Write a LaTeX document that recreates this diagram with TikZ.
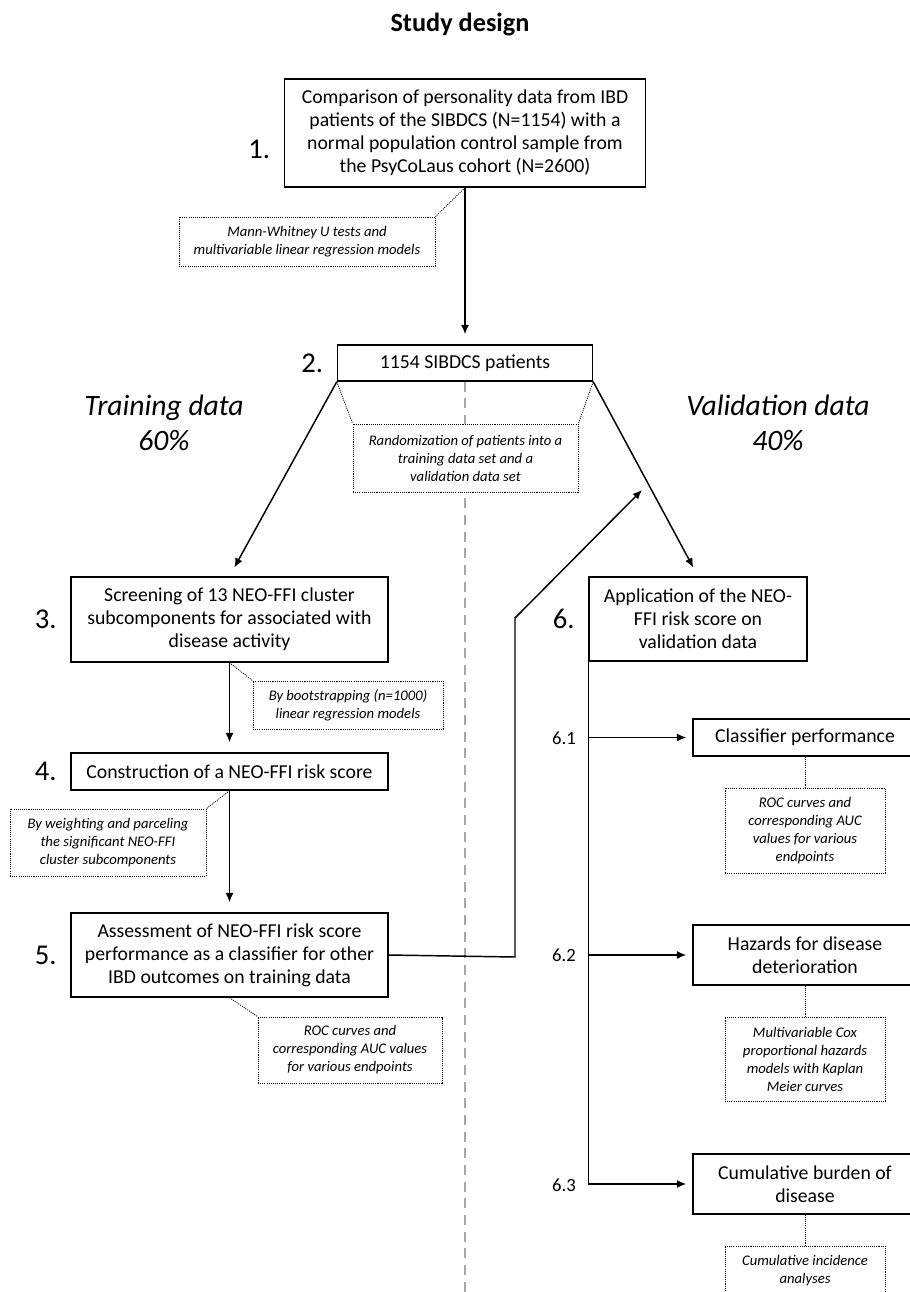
\documentclass[tikz,border=0pt]{standalone}
\usepackage{fontspec}
\setmainfont{Carlito}
\usepackage{tikz}
\usetikzlibrary{arrows.meta,positioning,calc}

\begin{document}
\begin{tikzpicture}[x=0.75pt,y=-0.75pt]
  \def\u{0.75pt}
  \tikzset{box/.style={draw,line width=1.1pt,fill=white,align=center,inner sep=2pt,font=\fontsize{14.8}{17.3}\selectfont}}
  \tikzset{note/.style={draw,line width=0.6pt,dash pattern=on 0.8pt off 0.8pt,fill=white,align=center,inner sep=2pt,font=\fontsize{11}{13.5}\selectfont\itshape}}
  \tikzset{flow/.style={->,>={Latex[length=7pt,width=6pt]},line width=1.1pt,shorten >=7.5pt}}
  \tikzset{branch/.style={flow,shorten >=4.5pt}}
  \tikzset{link/.style={line width=0.6pt,dash pattern=on 0.8pt off 0.8pt}}
  \tikzset{every label/.style={font=\fontsize{21.5}{24}\selectfont,inner sep=0pt,label distance=10pt}}
  \tikzset{side/.style={align=center,font=\fontsize{22.2}{26.3}\selectfont\itshape}}
  \tikzset{sub/.style={font=\fontsize{14}{17}\selectfont}}
  \useasboundingbox (0,0) rectangle (910,1292);

  \node[font=\fontsize{19.7}{23}\selectfont\bfseries] (title) at (460,25) {Study design};

  % training side
  \node[box,minimum width=361*\u,minimum height=108*\u] (one) at (465,133)
    [label={[yshift=-12pt]left:1.}] {Comparison of personality data from IBD\\patients of the SIBDCS (N=1154) with a\\normal population control sample from\\the PsyCoLaus cohort (N=2600)};
  \node[box,minimum width=255*\u,minimum height=36*\u] (two) at (465,363)
    [label=left:2.] {1154 SIBDCS patients};
  \coordinate (floor) at (465,1292);
  \draw[gray!70,line width=2pt,dash pattern=on 7.5pt off 5pt] (two.south) -- (two.south |- floor);

  \node[side] (train) at (164,423) {Training data\\60\%};
  \node[side] (valid) at (778,423) {Validation data\\40\%};

  \node[box,minimum width=317*\u,minimum height=85*\u] (three) at (229.5,619.5)
    [label=left:3.] {Screening of 13 NEO-FFI cluster\\subcomponents for associated with\\disease activity};
  \node[box,minimum width=317*\u,minimum height=37*\u] (four) at (229.5,771.5)
    [label=left:4.] {Construction of a NEO-FFI risk score};
  \node[box,minimum width=317*\u,minimum height=84*\u] (five) at (229.5,955)
    [label=left:5.] {Assessment of NEO-FFI risk score\\performance as a classifier for other\\IBD outcomes on training data};

  % validation side
  \node[box,minimum width=218*\u,minimum height=84*\u] (six) at (698,619)
    [label=left:6.] {Application of the NEO-\\FFI risk score on\\validation data};
  \node[box,minimum width=224*\u,minimum height=37*\u] (sixone) at (805,737.5) {Classifier performance};
  \node[box,minimum width=224*\u,minimum height=60*\u] (sixtwo) at (805,955) {Hazards for disease\\deterioration};
  \node[box,minimum width=224*\u,minimum height=60*\u] (sixthree) at (805,1184) {Cumulative burden of\\disease};
  \node[sub] (lsixone) at (564,738) {6.1};
  \node[sub] (lsixtwo) at (564,955) {6.2};
  \node[sub] (lsixthree) at (564,1185) {6.3};

  % notes
  \node[note,minimum width=256*\u,minimum height=49*\u] (noteone) at (307,241.5) {Mann-Whitney U tests and\\multivariable linear regression models};
  \node[note,minimum width=225*\u,minimum height=68*\u] (notetwo) at (465.5,458) {Randomization of patients into a\\training data set and a\\validation data set};
  \node[note,minimum width=190*\u,minimum height=48*\u] (notethree) at (348,705) {By bootstrapping (n=1000)\\linear regression models};
  \node[note,minimum width=196*\u,minimum height=67*\u] (notefour) at (108,842.5) {By weighting and parceling\\the significant NEO-FFI\\cluster subcomponents};
  \node[note,minimum width=184*\u,minimum height=66*\u] (notefive) at (350,1050) {ROC curves and\\corresponding AUC values\\for various endpoints};
  \node[note,minimum width=160*\u,minimum height=85*\u] (notesixone) at (805,830.5) {ROC curves and\\corresponding AUC\\values for various\\endpoints};
  \node[note,minimum width=160*\u,minimum height=84*\u] (notesixtwo) at (805,1059) {Multivariable Cox\\proportional hazards\\models with Kaplan\\Meier curves};
  \node[note,minimum width=160*\u,minimum height=50*\u] (notesixthree) at (805,1271) {Cumulative incidence\\analyses};

  \draw[link] (one.south) -- (noteone.north east);
  \draw[link] (two.south west) -- (notetwo.north west);
  \draw[link] (two.south east) -- (notetwo.north east);
  \draw[link] (three.south) -- (notethree.north west);
  \draw[link] (four.south) -- (notefour.north east);
  \draw[link] (five.south) -- (notefive.north west);
  \draw[link] (sixone) -- (notesixone);
  \draw[link] (sixtwo) -- (notesixtwo);
  \draw[link] (sixthree) -- (notesixthree);

  % arrows
  \draw[flow] (one.south) -- (two.north);
  \draw[flow] (two.south west) -- (three.north);
  \draw[flow] (two.south east) -- (six.north);
  \draw[flow] (three.south) -- (four.north);
  \draw[flow] (four.south) -- (five.north);

  \coordinate (elbow) at (515,957);
  \coordinate (turn) at (515,618);
  \coordinate (aim) at (642,490);
  \draw[flow,shorten >=0pt] (five.east) -- (elbow) -- (turn) -- (aim);

  \draw[line width=1.1pt] (six.south west) -- (six.south west |- sixthree.west);
  \draw[branch] (six.south west |- sixone.west) -- (sixone.west);
  \draw[branch] (six.south west |- sixtwo.west) -- (sixtwo.west);
  \draw[branch] (six.south west |- sixthree.west) -- (sixthree.west);
\end{tikzpicture}
\end{document}
